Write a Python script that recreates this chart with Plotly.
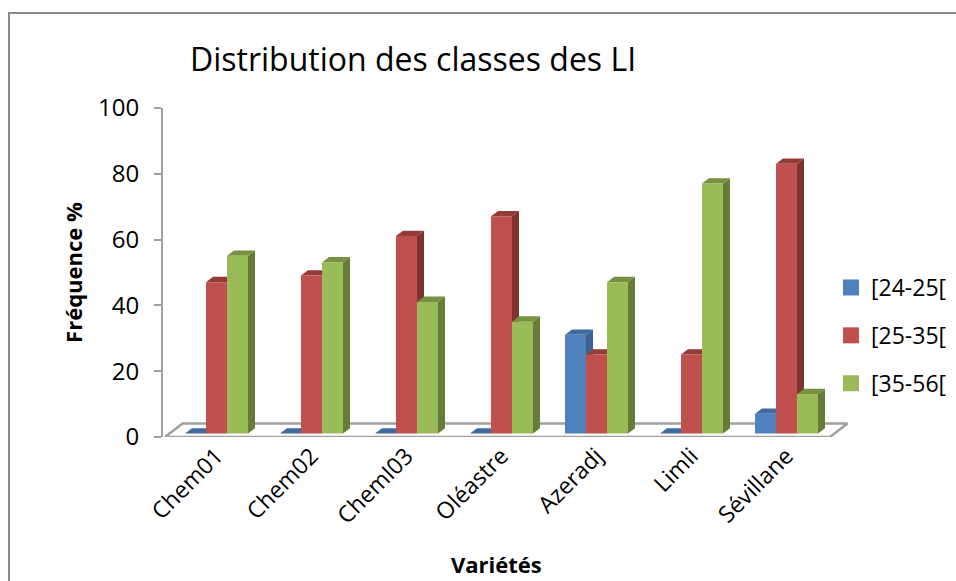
import plotly.graph_objects as go

categories = ["Chem01", "Chem02", "ChemI03", "Oléastre", "Azeradj", "Limli", "Sévillane"]
series_names = ["[24-25[", "[25-35[", "[35-56["]
v_24_25 = [0, 0, 0, 0, 30, 0, 6]
v_25_35 = [46, 48, 60, 66, 24, 24, 82]
v_35_56 = [54, 52, 40, 34, 46, 76, 12]
y_ticks = [0, 20, 40, 60, 80, 100]
title_text = "Distribution des classes des LI"
x_title = "Variétés"
y_title = "Fréquence %"

values = [v_24_25, v_25_35, v_35_56]
front = ["#4f81bd", "#c0504d", "#9bbb59"]
side = ["#3a6391", "#7f3331", "#667d37"]
top = ["#3f6ba0", "#943a37", "#76913f"]
grey = "#a0a0a0"
FONT = "Open Sans"

W, H = 956, 581
PLOT_L, PLOT_R, PLOT_T, PLOT_B = 163, 852, 108, 437
STEP = 95.0            # px per category
FIRST = 216.5          # px of first category centre
PX_UNIT = (PLOT_B - PLOT_T) / 100.0
BASE_LIFT = 3.5 / PX_UNIT   # the bars stand a little behind the front floor edge
bw = 21 / STEP
dx, dy = 7 / STEP, 5.3 / PX_UNIT

x_range = [(PLOT_L - FIRST) / STEP, (PLOT_R - FIRST) / STEP]
n = len(categories)

fig = go.Figure()

# floor of the 3D box
fl_x0, fl_x1 = (165 - FIRST) / STEP, (830 - FIRST) / STEP
fl_dx, fl_dy = 17.5 / STEP, 13.5 / PX_UNIT
fig.add_trace(go.Scatter(
    x=[fl_x0, fl_x0 + fl_dx, fl_x1 + fl_dx, fl_x1, fl_x0],
    y=[0, fl_dy, fl_dy, 0, 0], mode="lines",
    line=dict(color=grey, width=2.5), showlegend=False, hoverinfo="skip",
    xaxis="x", yaxis="y", cliponaxis=False))

# depth faces (side and top) of the bars
for s, vals in enumerate(values):
    off = (s - 1) * bw
    sx, sy, tx, ty = [], [], [], []
    for k, v in enumerate(vals):
        r = k + off + bw / 2
        l = k + off - bw / 2
        sx += [r, r + dx, r + dx, r, r, None]
        sy += [0, dy, v + dy, v, 0, None]
        tx += [l, l + dx, r + dx, r, l, None]
        ty += [v, v + dy, v + dy, v, v, None]
    for xs, ys, c in ((sx, sy, side[s]), (tx, ty, top[s])):
        fig.add_trace(go.Scatter(x=xs, y=ys, mode="lines", fill="toself", fillcolor=c,
                                 line=dict(width=0, color=c), showlegend=False,
                                 hoverinfo="skip", xaxis="x", yaxis="y2"))

# front faces
for s, vals in enumerate(values):
    fig.add_trace(go.Bar(x=list(range(n)), y=vals, name=series_names[s],
                         marker=dict(color=front[s], line=dict(width=0)),
                         showlegend=False, xaxis="x", yaxis="y3"))

# legend entries
for s, name in enumerate(series_names):
    fig.add_trace(go.Scatter(x=[None], y=[None], mode="markers", name=name, legendgroup=name,
                             marker=dict(symbol="square", size=16, color=front[s]),
                             xaxis="x", yaxis="y3"))

lifted = [-BASE_LIFT, 100 - BASE_LIFT]
dom_x = [PLOT_L / W, PLOT_R / W]
dom_y = [1 - PLOT_B / H, 1 - PLOT_T / H]

fig.update_layout(
    width=W, height=H, autosize=False,
    margin=dict(l=0, r=0, t=0, b=0),
    paper_bgcolor="white", plot_bgcolor="rgba(0,0,0,0)",
    font=dict(family=FONT, color="black"),
    barmode="group", bargap=1 - 3 * bw, bargroupgap=0,
    title=dict(text=title_text, x=190 / W, xanchor="left", xref="paper",
               y=1 - 60 / H, yanchor="middle", yref="container",
               font=dict(size=32, family=FONT, color="black")),
    xaxis=dict(domain=dom_x, range=x_range, tickmode="array", tickvals=list(range(n)),
               ticktext=categories, tickangle=-45, ticks="", showline=False, showgrid=False,
               zeroline=False, tickfont=dict(size=23), anchor="y", automargin=False),
    yaxis=dict(domain=dom_y, range=[0, 100], tickmode="array", tickvals=y_ticks,
               ticks="outside", ticklen=7, tickwidth=2, tickcolor=grey, showline=True,
               linecolor=grey, linewidth=2, showgrid=False, zeroline=False,
               ticklabelstandoff=10,
               tickfont=dict(size=24), anchor="x", automargin=False,
               title=dict(text=f"<b>{y_title}</b>", font=dict(size=22), standoff=9)),
    yaxis2=dict(domain=dom_y, range=lifted, overlaying="y", visible=False, anchor="x"),
    yaxis3=dict(domain=dom_y, range=lifted, overlaying="y", visible=False, anchor="x"),
    legend=dict(x=831 / W, xanchor="left", y=1 - 266 / H, yanchor="top", font=dict(size=23),
                tracegroupgap=15, itemsizing="trace", bgcolor="rgba(0,0,0,0)",
                itemclick=False, traceorder="grouped"),
    annotations=[dict(text=f"<b>{x_title}</b>", xref="paper", yref="paper",
                      x=496 / W, y=1 - 564 / H, xanchor="center", yanchor="middle",
                      showarrow=False, font=dict(size=22))],
    shapes=[dict(type="rect", xref="paper", yref="paper",
                 x0=9 / W, x1=1.02, y0=-0.02, y1=1 - 13 / H,
                 line=dict(color="#8a8a8a", width=2), fillcolor="rgba(0,0,0,0)", layer="below")],
)

fig.write_html("out.html", config=dict(displayModeBar=False),
               post_script="document.body.style.margin='0';")
